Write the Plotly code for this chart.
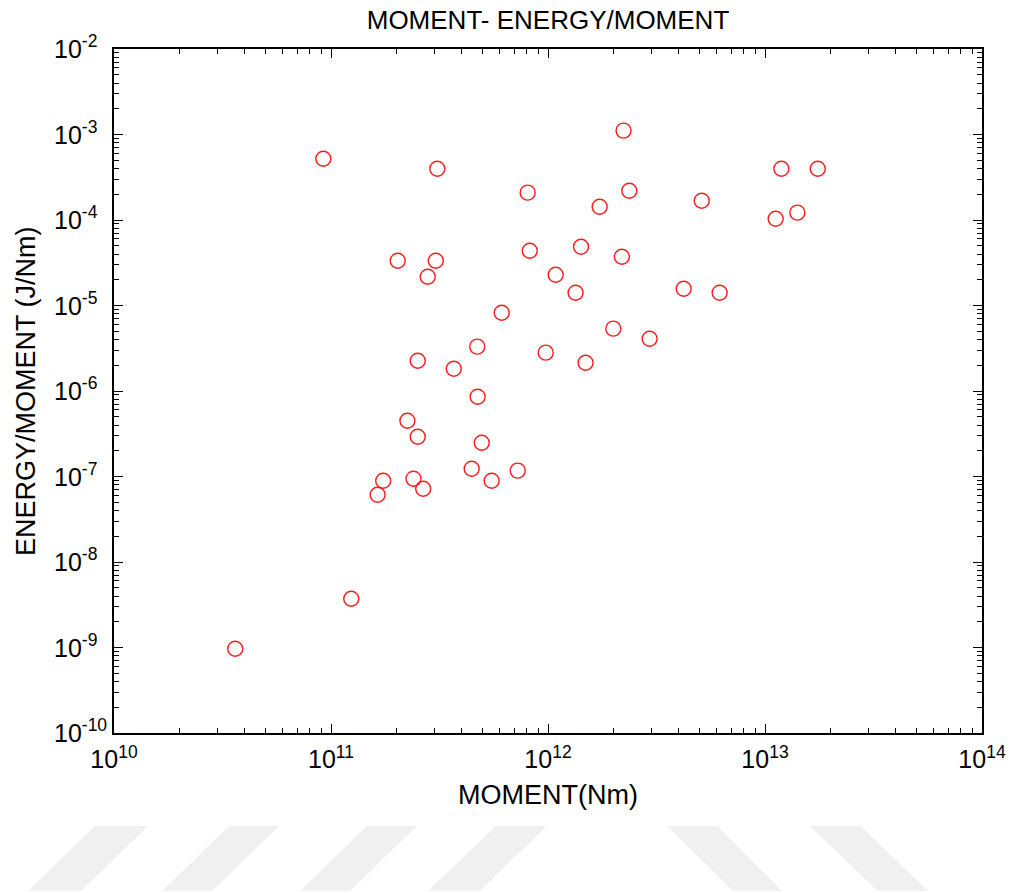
import plotly.graph_objects as go

# Seismic moment (Nm) and radiated energy / moment ratio (J/Nm) per event
moment_nm = [
    9.22e10, 3.09e11, 2.03e11, 3.04e11, 2.79e11, 6.12e11, 4.72e11, 2.51e11, 3.68e11,
    2.23e12, 1.19e13, 1.75e13, 8.06e11, 2.37e12, 1.73e12, 5.11e12, 1.12e13, 1.41e13,
    8.24e11, 1.42e12, 2.19e12, 1.085e12, 1.34e12, 4.22e12, 6.18e12, 2.00e12, 2.94e12,
    9.76e11, 1.49e12,
    4.74e11, 2.25e11, 2.51e11, 4.95e11, 4.45e11, 7.25e11, 5.50e11, 1.74e11, 2.40e11,
    2.66e11, 1.64e11, 1.24e11, 3.62e10,
]
energy_per_moment = [
    5.21e-4, 3.98e-4, 3.34e-5, 3.34e-5, 2.17e-5, 8.24e-6, 3.30e-6, 2.26e-6, 1.82e-6,
    1.11e-3, 3.98e-4, 3.98e-4, 2.09e-4, 2.20e-4, 1.43e-4, 1.68e-4, 1.035e-4, 1.22e-4,
    4.37e-5, 4.87e-5, 3.72e-5, 2.29e-5, 1.41e-5, 1.57e-5, 1.41e-5, 5.36e-6, 4.09e-6,
    2.81e-6, 2.14e-6,
    8.58e-7, 4.49e-7, 2.92e-7, 2.48e-7, 1.23e-7, 1.17e-7, 8.93e-8, 8.93e-8, 9.43e-8,
    7.20e-8, 6.12e-8, 3.72e-9, 9.68e-10,
]

x_exponents = [10, 11, 12, 13, 14]
y_exponents = [-2, -3, -4, -5, -6, -7, -8, -9, -10]

x_tickvals = [10.0 ** e for e in x_exponents]
x_ticktext = [f"10<sup>{e}</sup>" for e in x_exponents]
y_tickvals = [10.0 ** e for e in y_exponents]
y_ticktext = [f"10<sup>{e}</sup>" for e in y_exponents]

x_minor = [m * 10.0 ** e for e in x_exponents[:-1] for m in range(2, 10)]
y_minor = [m * 10.0 ** e for e in y_exponents[1:] for m in range(2, 10)]

FONT = "Liberation Sans, Arial, sans-serif"
PL, PR, PT, PB = 114, 982, 49, 733
W, H = 1010, 893

fig = go.Figure(
    go.Scatter(
        x=moment_nm,
        y=energy_per_moment,
        mode="markers",
        marker=dict(symbol="circle-open", size=15, color="#ff1a1a", line=dict(width=1.4)),
        showlegend=False,
        cliponaxis=False,
    )
)

axis_common = dict(
    type="log",
    automargin=False,
    showgrid=False,
    zeroline=False,
    showline=True,
    linecolor="black",
    linewidth=2,
    mirror="allticks",
    ticks="inside",
    ticklen=9,
    tickwidth=1,
    tickcolor="black",
    tickmode="array",
    tickfont=dict(family=FONT, size=25, color="black"),
    title_font=dict(family=FONT, size=27, color="black"),
)

fig.update_xaxes(
    **axis_common,
    range=[10, 14],
    tickvals=x_tickvals,
    ticktext=x_ticktext,
    ticklabelstandoff=3,
    minor=dict(tickmode="array", tickvals=x_minor, ticks="inside", ticklen=5,
               tickwidth=1, tickcolor="black", showgrid=False),
    title_text="MOMENT(Nm)",
    title_standoff=13,
)
fig.update_yaxes(
    **axis_common,
    range=[-10, -2],
    tickvals=y_tickvals,
    showticklabels=False,
    minor=dict(tickmode="array", tickvals=y_minor, ticks="inside", ticklen=5,
               tickwidth=1, tickcolor="black", showgrid=False),
)

# y tick labels, left-aligned in a column beside the axis
annotations = [
    dict(text=t, xref="paper", x=(52 - PL) / (PR - PL), xanchor="left",
         yref="y", y=e, yanchor="middle", yshift=2, showarrow=False,
         font=dict(family=FONT, size=25, color="black"))
    for e, t in zip(y_exponents, y_ticktext)
]
# y axis title
annotations.append(
    dict(text="ENERGY/MOMENT (J/Nm)", textangle=-90, xref="paper",
         x=(26 - PL) / (PR - PL), xanchor="center", yref="paper", y=0.5,
         yanchor="middle", showarrow=False,
         font=dict(family=FONT, size=27, color="black"))
)


# faint diagonal bands along the bottom edge of the page
def px_to_paper(px, py):
    return (px - PL) / (PR - PL), (PB - py) / (PB - PT)


bands = [
    ((95, 148), (28, 81)),
    ((229, 279), (162, 212)),
    ((367, 417), (300, 350)),
    ((496, 547), (428, 480)),
    ((667, 718), (733, 782)),
    ((810, 861), (878, 928)),
]
shapes = []
for (t0, t1), (b0, b1) in bands:
    pts = [px_to_paper(t0, 826), px_to_paper(t1, 826), px_to_paper(b1, 891), px_to_paper(b0, 891)]
    path = "M " + " L ".join(f"{x:.5f},{y:.5f}" for x, y in pts) + " Z"
    shapes.append(dict(type="path", xref="paper", yref="paper", path=path,
                       fillcolor="#f0f0f0", line=dict(width=0), layer="below"))

fig.update_layout(
    width=W,
    height=H,
    margin=dict(l=PL, r=W - PR, t=PT, b=H - PB),
    paper_bgcolor="white",
    plot_bgcolor="white",
    title=dict(text="MOMENT- ENERGY/MOMENT", x=0.5, xanchor="center", y=1 - 20 / H,
               yanchor="middle", xref="paper",
               font=dict(family=FONT, size=26, color="black")),
    shapes=shapes,
    annotations=annotations,
)

fig.write_html("out.html")
